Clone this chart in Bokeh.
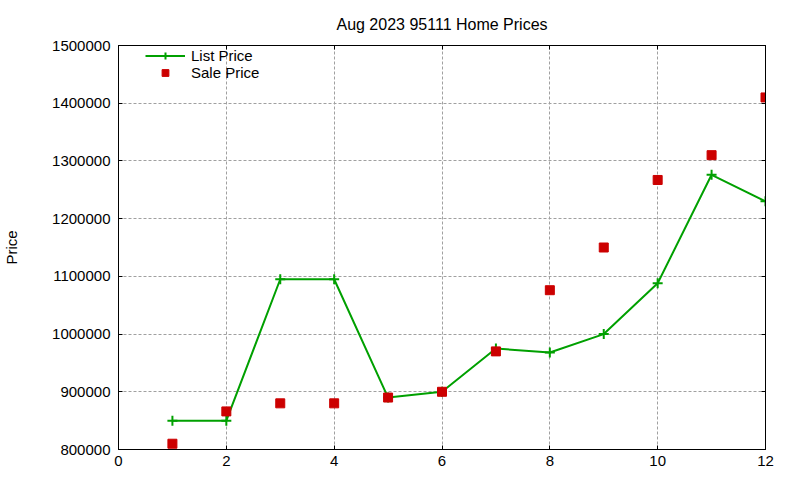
from bokeh.plotting import figure
from bokeh.models import (LinearAxis, FixedTicker, BasicTickFormatter, Legend, LegendItem,
                          Range1d, Title)
from bokeh.embed import file_html
from bokeh.resources import INLINE

# ---- data ----
months = [1, 2, 3, 4, 5, 6, 7, 8, 9, 10, 11, 12]
list_price = [850000, 850000, 1095000, 1095000, 890000, 900000,
              975000, 968000, 1000000, 1088000, 1276000, 1230000]
sale_price = [810000, 866000, 880000, 880000, 890000, 900000,
              970000, 1076000, 1150000, 1267000, 1310000, 1410000]
x_ticks = [0, 2, 4, 6, 8, 10, 12]
y_ticks = [800000, 900000, 1000000, 1100000, 1200000, 1300000, 1400000, 1500000]

FONT = "Liberation Sans"
FS = "15px"
GREEN = "#00a000"
RED = "#cc0000"

p = figure(width=800, height=480, output_backend="svg", toolbar_location=None,
           x_range=Range1d(0, 12), y_range=Range1d(800000, 1500000),
           min_border_left=118, min_border_right=35, min_border_top=45, min_border_bottom=31,
           x_axis_location=None, y_axis_location=None)
p.outline_line_color = "black"
p.outline_line_width = 1
p.outline_line_alpha = 1
p.background_fill_color = "white"
p.border_fill_color = "white"

p.title = Title(text="Aug 2023 95111 Home Prices", align="center",
                text_font=FONT, text_font_size="16px", text_font_style="normal",
                text_color="#000000", standoff=26)

def style_axis(ax, labels=True):
    ax.axis_line_color = "black"
    ax.major_tick_in = 4
    ax.major_tick_out = 0
    ax.minor_tick_in = 0
    ax.minor_tick_out = 0
    ax.major_tick_line_color = "black"
    ax.major_label_text_font = FONT
    ax.major_label_text_font_size = FS
    ax.major_label_text_color = "black" if labels else None
    ax.axis_label_text_font = FONT
    ax.axis_label_text_font_size = FS
    ax.axis_label_text_font_style = "normal"
    ax.axis_label_text_color = "black"

xb = LinearAxis(ticker=FixedTicker(ticks=x_ticks), major_label_standoff=6)
style_axis(xb)
yl = LinearAxis(ticker=FixedTicker(ticks=y_ticks),
                formatter=BasicTickFormatter(use_scientific=False),
                major_label_standoff=8, axis_label="Price", axis_label_standoff=29)
style_axis(yl)
xt = LinearAxis(ticker=FixedTicker(ticks=x_ticks), major_label_standoff=0)
style_axis(xt, labels=False)
yr = LinearAxis(ticker=FixedTicker(ticks=y_ticks), major_label_standoff=0,
                formatter=BasicTickFormatter(use_scientific=False))
style_axis(yr, labels=False)
p.add_layout(xb, "below")
p.add_layout(yl, "left")
p.add_layout(xt, "above")
p.add_layout(yr, "right")

p.xgrid.ticker = FixedTicker(ticks=x_ticks)
p.ygrid.ticker = FixedTicker(ticks=y_ticks)
for g in (p.xgrid, p.ygrid):
    g.grid_line_color = "#a0a0a0"
    g.grid_line_dash = "3 2"
    g.grid_line_width = 1

ln = p.line(months, list_price, line_color=GREEN, line_width=2)
cr = p.scatter(months, list_price, marker="cross", size=10, line_color=GREEN, line_width=2)
sq = p.scatter(months, sale_price, marker="square", size=9, fill_color=RED, line_color=RED)

legend = Legend(items=[LegendItem(label="List Price", renderers=[ln, cr]),
                       LegendItem(label="Sale Price", renderers=[sq])],
                location=(27, 368), padding=2, spacing=0, glyph_width=40, glyph_height=17,
                label_height=17, label_standoff=6,
                label_text_font=FONT, label_text_font_size=FS, label_text_color="black",
                background_fill_alpha=0, border_line_color=None)
p.add_layout(legend, "center")

open("out.html", "w").write(file_html(p, INLINE))
